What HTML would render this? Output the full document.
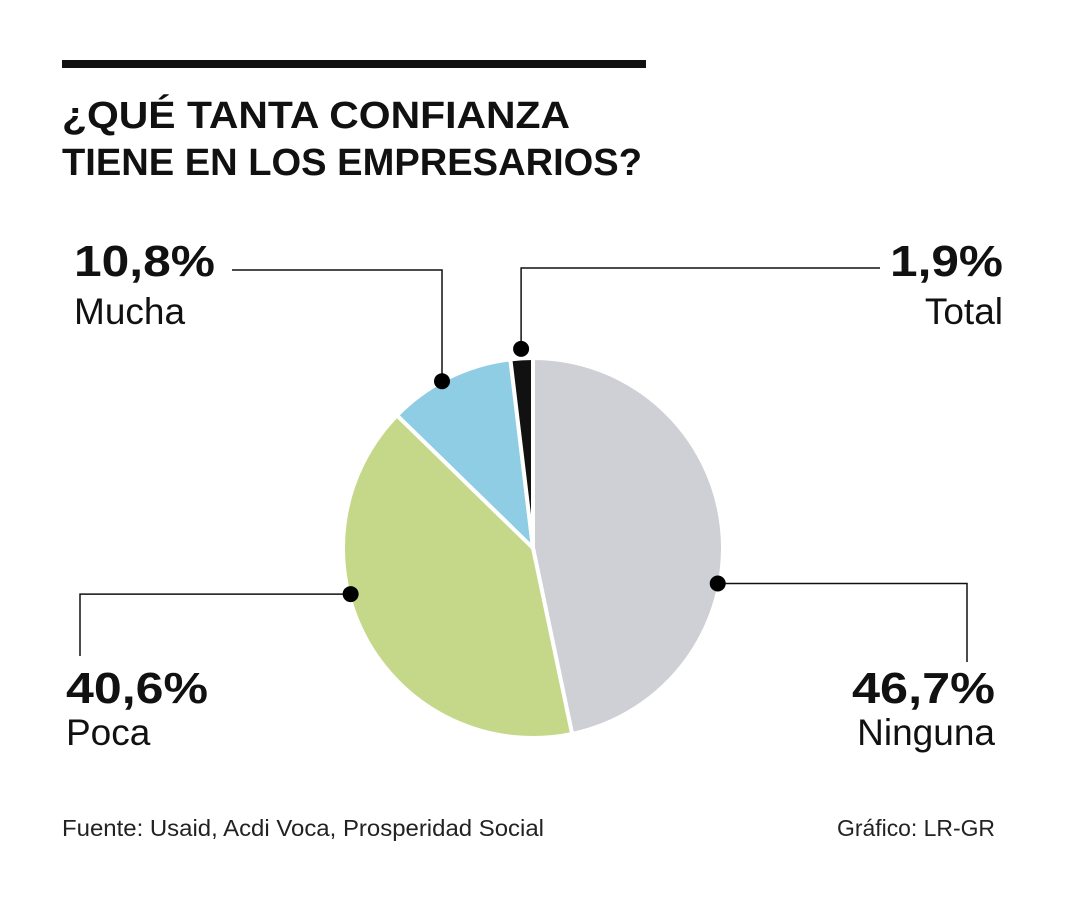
<!DOCTYPE html>
<html><head><meta charset="utf-8">
<style>
html,body{margin:0;padding:0;background:#fff;}
svg{display:block;font-family:"Liberation Sans",sans-serif;}
</style></head>
<body>
<svg id="chart" width="1080" height="900" viewBox="0 0 1080 900">
  <rect x="62" y="60" width="584" height="8" fill="#111"/>
  <text x="62" y="128" font-size="38" font-weight="bold" fill="#111" textLength="508" lengthAdjust="spacingAndGlyphs">¿QUÉ TANTA CONFIANZA</text>
  <text x="62" y="175" font-size="38" font-weight="bold" fill="#111" textLength="580" lengthAdjust="spacingAndGlyphs">TIENE EN LOS EMPRESARIOS?</text>
  <g id="slices"></g>
  <g id="labels"></g>
  <text x="62" y="836" font-size="23" fill="#222" textLength="482" lengthAdjust="spacingAndGlyphs">Fuente: Usaid, Acdi Voca, Prosperidad Social</text>
  <text x="995" y="836" font-size="23" fill="#222" text-anchor="end" textLength="158" lengthAdjust="spacingAndGlyphs">Gráfico: LR-GR</text>
</svg>
<script>
const categories = ["Ninguna", "Poca", "Mucha", "Total"];
const values = [46.7, 40.6, 10.8, 1.9];
const valueLabels = ["46,7%", "40,6%", "10,8%", "1,9%"];
const colors = ["#cfd0d5", "#c5d88a", "#8ecde3", "#111111"];
const NS = "http://www.w3.org/2000/svg";
const cx = 533, cy = 548, r = 190;
const total = values.reduce((a,b)=>a+b,0);
function pt(angDeg, rad){const a=(angDeg-90)*Math.PI/180;return [cx+rad*Math.cos(a), cy+rad*Math.sin(a)];}
const slicesG = document.getElementById('slices');
const labelsG = document.getElementById('labels');
const layouts = [
  {frac:0.6, rf:0.99, path:(d)=>[[d[0],d[1]],[967,d[1]],[967,662]], tx:995, ty:703, anchor:"end", nameY:745, tl:143},
  {frac:0.6, rf:0.99, path:(d)=>[[d[0],d[1]],[80,d[1]],[80,656]], tx:66, ty:703, anchor:"start", nameY:745, tl:142},
  {frac:0.44, rf:1.0, path:(d)=>[[d[0],d[1]],[d[0],270],[232,270]], tx:74, ty:276, anchor:"start", nameY:324, tl:141},
  {frac:0.5, rf:1.05, path:(d)=>[[d[0],d[1]],[d[0],268],[880,268]], tx:1003, ty:276, anchor:"end", nameY:324, tl:113}
];
let start = 0;
values.forEach((v,i)=>{
  const sweep = v/total*360, end = start+sweep;
  const p0=pt(start,r), p1=pt(end,r);
  const path=document.createElementNS(NS,'path');
  path.setAttribute('d',`M${cx},${cy} L${p0[0]},${p0[1]} A${r},${r} 0 ${sweep>180?1:0} 1 ${p1[0]},${p1[1]} Z`);
  path.setAttribute('fill',colors[i]);
  path.setAttribute('stroke','#fff');
  path.setAttribute('stroke-width','4');
  
  
  slicesG.appendChild(path);
  const L=layouts[i];
  const dot=pt(start+sweep*L.frac, r*L.rf);
  const pts=L.path(dot);
  const pl=document.createElementNS(NS,'polyline');
  pl.setAttribute('points',pts.map(p=>p.join(',')).join(' '));
  pl.setAttribute('fill','none');pl.setAttribute('stroke','#111');pl.setAttribute('stroke-width','1.5');
  
  
  labelsG.appendChild(pl);
  const c=document.createElementNS(NS,'circle');
  c.setAttribute('cx',dot[0]);c.setAttribute('cy',dot[1]);c.setAttribute('r','8');c.setAttribute('fill','#000');
  
  
  labelsG.appendChild(c);
  const t1=document.createElementNS(NS,'text');
  t1.setAttribute('x',L.tx);t1.setAttribute('y',L.ty);t1.setAttribute('text-anchor',L.anchor);
  t1.setAttribute('font-size','44');t1.setAttribute('font-weight','bold');t1.setAttribute('fill','#111');
  t1.setAttribute('textLength',L.tl);t1.setAttribute('lengthAdjust','spacingAndGlyphs');
  t1.textContent=valueLabels[i];
  
  
  labelsG.appendChild(t1);
  const t2=document.createElementNS(NS,'text');
  t2.setAttribute('x',L.tx);t2.setAttribute('y',L.nameY);t2.setAttribute('text-anchor',L.anchor);
  t2.setAttribute('font-size','37');t2.setAttribute('fill','#111');
  t2.textContent=categories[i];
  
  
  labelsG.appendChild(t2);
  start=end;
});
</script>
</body></html>
